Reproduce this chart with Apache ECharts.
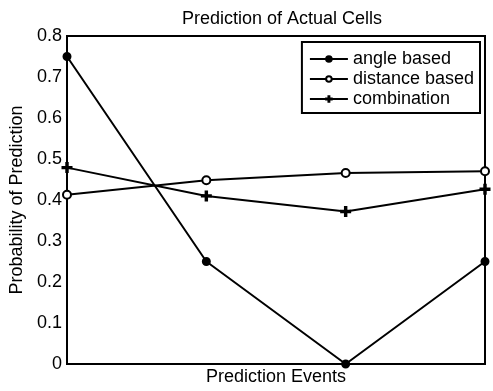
<!DOCTYPE html>
<html>
<head>
<meta charset="utf-8">
<script src="https://cdn.jsdelivr.net/npm/echarts@6/dist/echarts.min.js"></script>
<style>
  html, body { margin: 0; padding: 0; background: #fff; }
  #main { width: 493px; height: 391px; }
</style>
</head>
<body>
<div id="main"></div>
<script>
// data
var events = ['1', '2', '3', '4'];
var angleBased = [0.75, 0.25, 0.0, 0.25];
var distanceBased = [0.413, 0.448, 0.466, 0.47];
var combination = [0.479, 0.41, 0.372, 0.426];
var yTicks = [0, 0.1, 0.2, 0.3, 0.4, 0.5, 0.6, 0.7, 0.8];

var font = 'Liberation Sans, Arial, sans-serif';
var plus = 'path://M4.2,0h1.6v4.2h4.2v1.6h-4.2v4.2h-1.6v-4.2h-4.2v-1.6h4.2z';

var chart = echarts.init(document.getElementById('main'));

//线条公共样式
var lineSeries = function (name, data, symbol, size) {
    return {
        name: name,
        type: 'line',
        data: data,
        symbol: symbol,
        symbolSize: size,
        showAllSymbol: true,
        lineStyle: { color: '#000', width: 2 },
        itemStyle: { color: '#000', borderColor: '#000', borderWidth: 2 },
        emphasis: { disabled: true },
        z: 3
    };
};

chart.setOption({
    animation: false,
    textStyle: { fontFamily: font },
    title: {
        text: 'Prediction of Actual Cells',
        left: 177,
        top: 5,
        textStyle: { fontSize: 18, fontWeight: 'normal', color: '#000', fontFamily: font }
    },
    legend: {
        right: 13,
        top: 42,
        orient: 'vertical',
        borderColor: '#000',
        borderWidth: 2,
        padding: [8, 6, 5, 7],
        itemGap: 2,
        itemWidth: 38,
        itemHeight: 7,
        textStyle: { fontSize: 18, color: '#000', fontFamily: font },
        data: ['angle based', 'distance based', 'combination']
    },
    grid: {
        left: 67, right: 8, top: 36, bottom: 24,
        show: true, borderColor: '#000', borderWidth: 2, containLabel: false
    },
    xAxis: {
        type: 'category',
        data: events,
        boundaryGap: false,
        name: 'Prediction Events',
        nameLocation: 'middle',
        nameGap: 4,
        nameTextStyle: { fontSize: 18, color: '#000', fontFamily: font, verticalAlign: 'top' },
        axisLine: { lineStyle: { color: '#000', width: 2 } },
        axisTick: { show: false },
        axisLabel: { show: false },
        splitLine: { show: false }
    },
    yAxis: [{
        type: 'value',
        min: 0, max: 0.8, interval: 0.1,
        name: 'Probability of Prediction',
        nameLocation: 'middle',
        nameGap: 36,
        nameTextStyle: { fontSize: 18, color: '#000', fontFamily: font },
        axisLine: { show: true, lineStyle: { color: '#000', width: 2 } },
        axisTick: { inside: true, length: 5, lineStyle: { color: '#000', width: 2 } },
        axisLabel: {
            fontSize: 18, color: '#000', fontFamily: font, margin: 5,
            formatter: function (v) { return yTicks.indexOf(Math.round(v * 10) / 10) >= 0 ? String(Math.round(v * 10) / 10) : ''; }
        },
        splitLine: { show: false }
    }, {
        type: 'value',
        position: 'right',
        min: 0, max: 0.8, interval: 0.1,
        axisLine: { show: true, lineStyle: { color: '#000', width: 2 } },
        axisTick: { inside: true, length: 5, lineStyle: { color: '#000', width: 2 } },
        axisLabel: { show: false },
        splitLine: { show: false }
    }],
    series: [
        lineSeries('angle based', angleBased, 'circle', 7),
        lineSeries('distance based', distanceBased, 'emptyCircle', 8),
        lineSeries('combination', combination, plus, 9)
    ]
});
</script>
</body>
</html>
